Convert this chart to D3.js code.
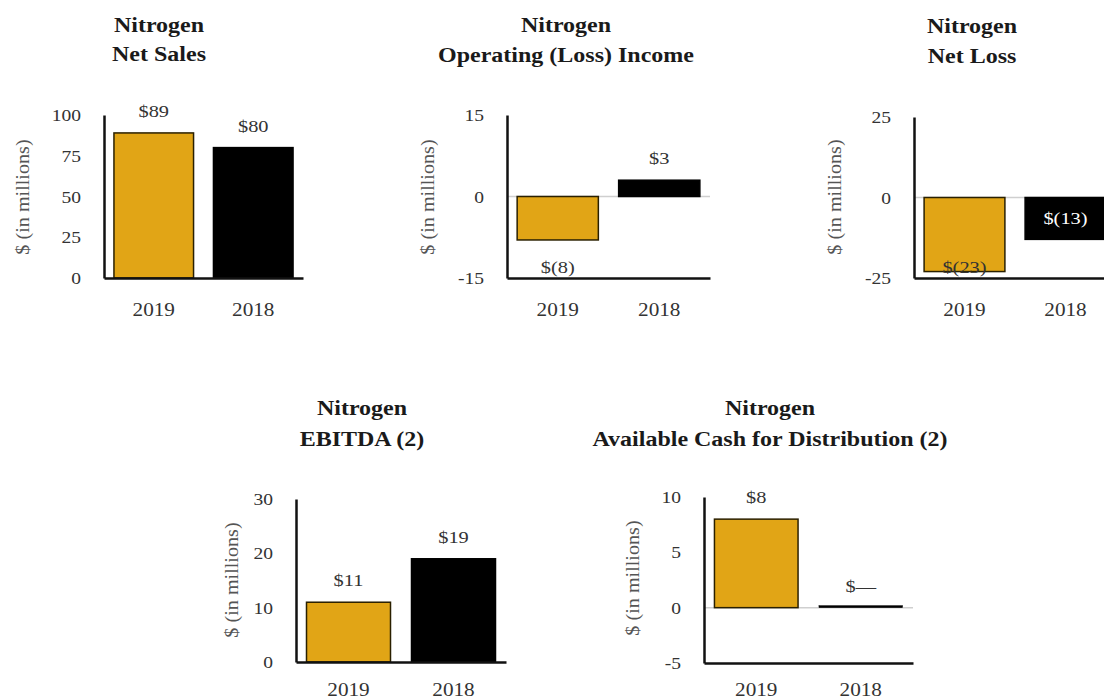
<!DOCTYPE html>
<html><head><meta charset="utf-8">
<script src="https://cdn.jsdelivr.net/npm/d3@7"></script>
<style>body{margin:0;background:#fff} svg{display:block}</style>
</head><body><svg id="c" width="1104" height="700"></svg>
<script>
const categories = ["2019", "2018"];
const netSales = [89, 80];
const netSalesLabels = ["$89", "$80"];
const netSalesTicks = [0, 25, 50, 75, 100];
const operatingIncome = [-8, 3];
const operatingIncomeLabels = ["$(8)", "$3"];
const operatingIncomeTicks = [-15, 0, 15];
const netLoss = [-23, -13];
const netLossLabels = ["$(23)", "$(13)"];
const netLossTicks = [-25, 0, 25];
const ebitda = [11, 19];
const ebitdaLabels = ["$11", "$19"];
const ebitdaTicks = [0, 10, 20, 30];
const cashForDistribution = [8, 0];
const cashLabels = ["$8", "$—"];
const cashTicks = [-5, 0, 5, 10];
const titleLine1 = "Nitrogen";
const panelTitles = ["Net Sales", "Operating (Loss) Income", "Net Loss", "EBITDA (2)", "Available Cash for Distribution (2)"];
const yAxisTitle = "$ (in millions)";
const barColors = ["#E1A516", "#000000"];

const FONT = "'Liberation Serif','Times New Roman',serif";
const SX = 1.15;

const panels = [
  {values: netSales, labels: netSalesLabels, ticks: netSalesTicks, title: panelTitles[0],
   ax: 104, end: 303, top: 115, bottom: 278, tx: 159, ty: [32, 61], ylx: 23, yly: 197, xl: 38, pos: ["above", "above"]},
  {values: operatingIncome, labels: operatingIncomeLabels, ticks: operatingIncomeTicks, title: panelTitles[1],
   ax: 507, end: 710, top: 115, bottom: 278, tx: 566, ty: [32, 62], ylx: 428, yly: 197, xl: 38, pos: ["bottom", "above"]},
  {values: netLoss, labels: netLossLabels, ticks: netLossTicks, title: panelTitles[2],
   ax: 914, end: 1116, top: 117, bottom: 278, tx: 972, ty: [33, 63], ylx: 835, yly: 197, xl: 38, pos: ["bottom", "inside"]},
  {values: ebitda, labels: ebitdaLabels, ticks: ebitdaTicks, title: panelTitles[3],
   ax: 296, end: 506, top: 499, bottom: 662, tx: 362, ty: [415, 446], ylx: 232, yly: 580, xl: 34, pos: ["above", "above"]},
  {values: cashForDistribution, labels: cashLabels, ticks: cashTicks, title: panelTitles[4],
   ax: 704, end: 913, top: 497, bottom: 663, tx: 770, ty: [415, 446], ylx: 633, yly: 578, xl: 33, pos: ["above", "above"]}
];

const svg = d3.select("#c");

function stretched(g, str, x, y, opts) {
  const t = g.append("text")
    .attr("transform", `translate(${x},${y})` + (opts.rotate ? ` rotate(${opts.rotate})` : "") + ` scale(${opts.sx || SX},1)`)
    .attr("text-anchor", opts.anchor || "middle")
    .attr("font-family", FONT)
    .attr("font-size", opts.size)
    .attr("font-weight", opts.weight || "normal")
    .attr("fill", opts.fill || "#222")
    .text(str);
  if (opts.dy) t.attr("dy", opts.dy);
  return t;
}

panels.forEach(p => {
  const g = svg.append("g");
  const ticks = p.ticks;
  const y = d3.scaleLinear().domain([ticks[0], ticks[ticks.length - 1]]).range([p.bottom, p.top]);
  const x = d3.scaleBand().domain(categories).range([p.ax, p.end]).paddingInner(0.2).paddingOuter(0.1);

  // titles
  stretched(g, titleLine1, p.tx, p.ty[0], {size: 20, weight: "bold", fill: "#1a1a1a", sx: 1.2});
  stretched(g, p.title, p.tx, p.ty[1], {size: 20, weight: "bold", fill: "#1a1a1a", sx: 1.2});

  // y title
  stretched(g, yAxisTitle, p.ylx, p.yly, {size: 18, rotate: -90, fill: "#555", dy: "0.35em", sx: 1.12});

  // zero line
  if (ticks[0] < 0) {
    g.append("line").attr("x1", p.ax).attr("x2", p.end).attr("y1", y(0)).attr("y2", y(0))
      .attr("stroke", "#cfcfcf").attr("stroke-width", 1.5);
  }

  // bars
  categories.forEach((c, i) => {
    const v = p.values[i];
    const h = Math.abs(y(v) - y(0));
    g.append("rect")
      .attr("x", x(c)).attr("width", x.bandwidth())
      .attr("y", h < 2 ? y(0) - 2 : Math.min(y(v), y(0)))
      .attr("height", Math.max(h, 2))
      .attr("fill", barColors[i])
      .attr("stroke", i === 0 ? "#2a2000" : "#000")
      .attr("stroke-width", h < 2 ? 0.5 : 1.5);
  });

  // value labels
  categories.forEach((c, i) => {
    const v = p.values[i];
    const cx = x(c) + x.bandwidth() / 2;
    let ly, fill = "#333";
    if (p.pos[i] === "above") ly = y(Math.max(v, 0)) - 16;
    else if (p.pos[i] === "bottom") ly = p.bottom - 5;
    else { ly = (y(0) + y(v)) / 2 + 6; fill = "#fff"; }
    stretched(g, p.labels[i], cx, ly, {size: 17, fill: fill, sx: 1.2});
  });

  // y axis
  const ya = g.append("g").attr("transform", `translate(${p.ax},0)`)
    .call(d3.axisLeft(y).tickValues(ticks).tickSize(0).tickSizeOuter(0).tickFormat(d => String(d)));
  ya.select(".domain").attr("stroke", "#111").attr("stroke-width", 2.5);
  ya.selectAll(".tick text")
    .attr("x", null).attr("dy", "0.33em")
    .attr("transform", `translate(-23,0) scale(${SX},1)`)
    .attr("font-family", FONT).attr("font-size", 17).attr("fill", "#333")
    .attr("text-anchor", "end");

  // x axis
  const xa = g.append("g").attr("transform", `translate(0,${p.bottom})`)
    .call(d3.axisBottom(x).tickSize(0).tickSizeOuter(0));
  xa.select(".domain").attr("stroke", "#111").attr("stroke-width", 2.5);
  xa.selectAll(".tick text")
    .attr("y", null).attr("dy", null)
    .attr("transform", `translate(0,${p.xl}) scale(1.18,1)`)
    .attr("font-family", FONT).attr("font-size", 18).attr("fill", "#333");
});
</script>
</body></html>
